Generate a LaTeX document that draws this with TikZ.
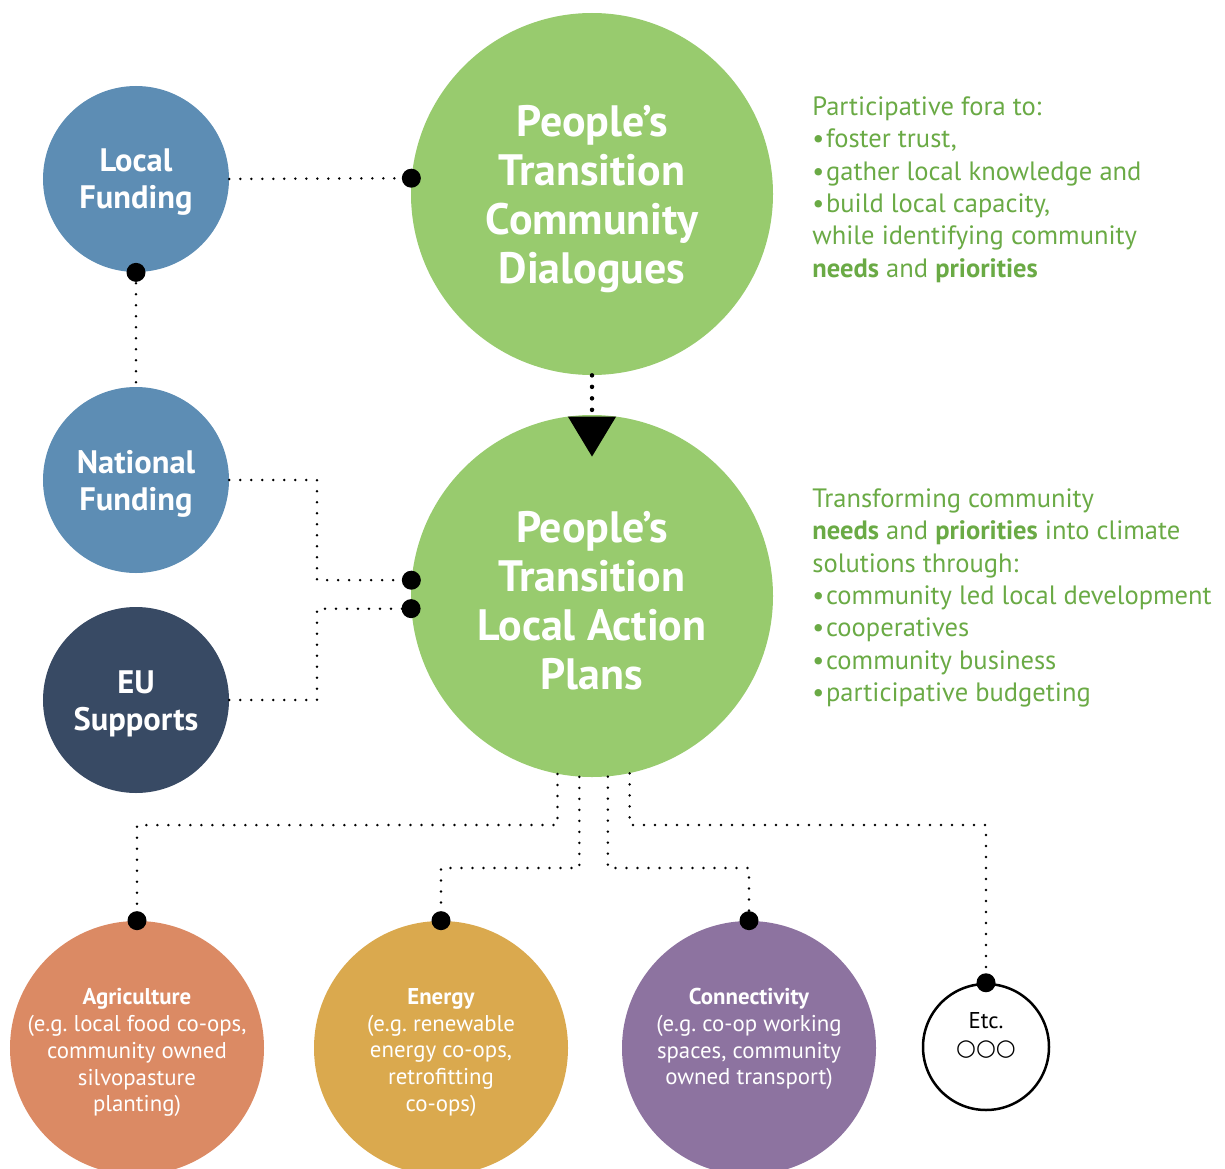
\documentclass[tikz,border=0pt]{standalone}
\usepackage{fontspec}
\setmainfont{PT Sans}
\newfontfamily\symfont{DejaVu Sans}
\usetikzlibrary{arrows.meta}
\frenchspacing

\definecolor{fundblue}{HTML}{5D8DB4}
\definecolor{eunavy}{HTML}{384A64}
\definecolor{plangreen}{HTML}{98CB6E}
\definecolor{notegreen}{HTML}{6AAA45}
\definecolor{agriorange}{HTML}{DB8A64}
\definecolor{energyyellow}{HTML}{DAA94E}
\definecolor{connpurple}{HTML}{8D73A0}

\tikzset{
  fund/.style={circle, inner sep=0pt, minimum size=37.2mm},
  fundtext/.style={align=center, text=white, yshift=-0.7mm,
    font=\fontsize{18.5}{21}\selectfont\bfseries},
  plan/.style={circle, fill=plangreen, inner sep=0pt, minimum size=72.4mm},
  plantext/.style={align=center, text=white, yshift=-1mm,
    font=\fontsize{25}{27.9}\selectfont\bfseries},
  sector/.style={circle, inner sep=0pt, minimum size=50.8mm},
  sectortext/.style={align=center, text=white, yshift=-0.9mm,
    font=\fontsize{13}{15.3}\selectfont},
  etcring/.style={circle, draw=black, line width=0.5mm, fill=white,
    inner sep=0pt, minimum size=25.2mm, align=center,
    font=\fontsize{13}{15.3}\selectfont},
  note/.style={anchor=west, inner sep=0pt, align=left, text=notegreen,
    font=\fontsize{15.1}{18.4}\selectfont},
  link/.style={line width=0.55mm, dash pattern=on 0pt off 2.2mm, line cap=round},
  bigdots/.style={line width=0.9mm, dash pattern=on 0pt off 2.3mm, line cap=round}
}

\begin{document}
\begin{tikzpicture}[x=0.2mm,y=-0.2mm]

\useasboundingbox (0,0) rectangle (1225,1169);
\clip (0,0) rectangle (1225,1169);

% Funding
\node[fund, fill=fundblue, label={[fundtext]center:Local\\Funding}]
  (local) at (136,179) {};
\node[fund, fill=fundblue, label={[fundtext]center:National\\Funding}]
  (national) at (136,480) {};
\node[fund, fill=eunavy, label={[fundtext]center:EU\\Supports}]
  (eu) at (136,700) {};

% Dialogues and plans
\node[plan, label={[plantext]center:People’s\\Transition\\Community\\Dialogues}]
  (dialogues) at (592,194) {};
\node[plan, label={[plantext]center:People’s\\Transition\\Local Action\\Plans}]
  (plans) at (592,596) {};

\node[note] (dialoguesnote) at (812,189.5)
{Participative fora to:\\
•\hspace{1pt}foster trust,\\
•\hspace{1pt}gather local knowledge and\\
•\hspace{1pt}build local capacity,\\
while identifying community\\
\textbf{needs} and \textbf{priorities}};

\node[note] (plansnote) at (812,598)
{Transforming community\\
\textbf{needs} and \textbf{priorities} into climate\\
solutions through:\\
•\hspace{1pt}community led local development\\
•\hspace{1pt}cooperatives\\
•\hspace{1pt}community business\\
•\hspace{1pt}participative budgeting};

% Sectors
\node[sector, fill=agriorange,
  label={[sectortext]center:{\textbf{Agriculture}\\(e.g. local food co-ops,\\community owned\\silvopasture\\planting)}}]
  (agri) at (137,1048) {};
\node[sector, fill=energyyellow,
  label={[sectortext]center:{\textbf{Energy}\\(e.g. renewable\\energy co-ops,\\retrofitting\\co-ops)}}]
  (energy) at (441,1048) {};
\node[sector, fill=connpurple,
  label={[sectortext, yshift=2.7mm]center:{\textbf{Connectivity}\\(e.g. co-op working\\spaces, community\\owned transport)}}]
  (conn) at (749,1048) {};
\node[etcring] (etc) at (986,1047)
{Etc.\\{\symfont ○○○}\\ \phantom{x}};

% Links
\coordinate (fundbus) at (317,0);

\draw[link] (local.east) -- (dialogues.175.3);
\draw[link] (local.south) -- (national.north);
\draw[link] (national.east) -- (national.east -| fundbus) |- (plans.175.3);
\draw[link] (eu.east) -- (eu.east -| fundbus) |- (plans.184.5);

\draw[bigdots, -{Triangle[width=9.4mm,length=8mm]}]
  (dialogues.south) -- ([yshift=-8.4mm]plans.north);

\foreach \a/\y/\t in {
259.2/825/agri,
266.5/868/energy,
275.1/868/conn,
282.8/825/etc}
{
\coordinate (lvl) at (0,\y);
\draw[link] (plans.\a) -- (plans.\a |- lvl) -| (\t.north);
\fill (\t.north) circle (1.9mm);
}

% Link ends
\foreach \p in {dialogues.175.3, local.south, plans.175.3, plans.184.5}
{
\fill (\p) circle (1.9mm);
}

\end{tikzpicture}
\end{document}
